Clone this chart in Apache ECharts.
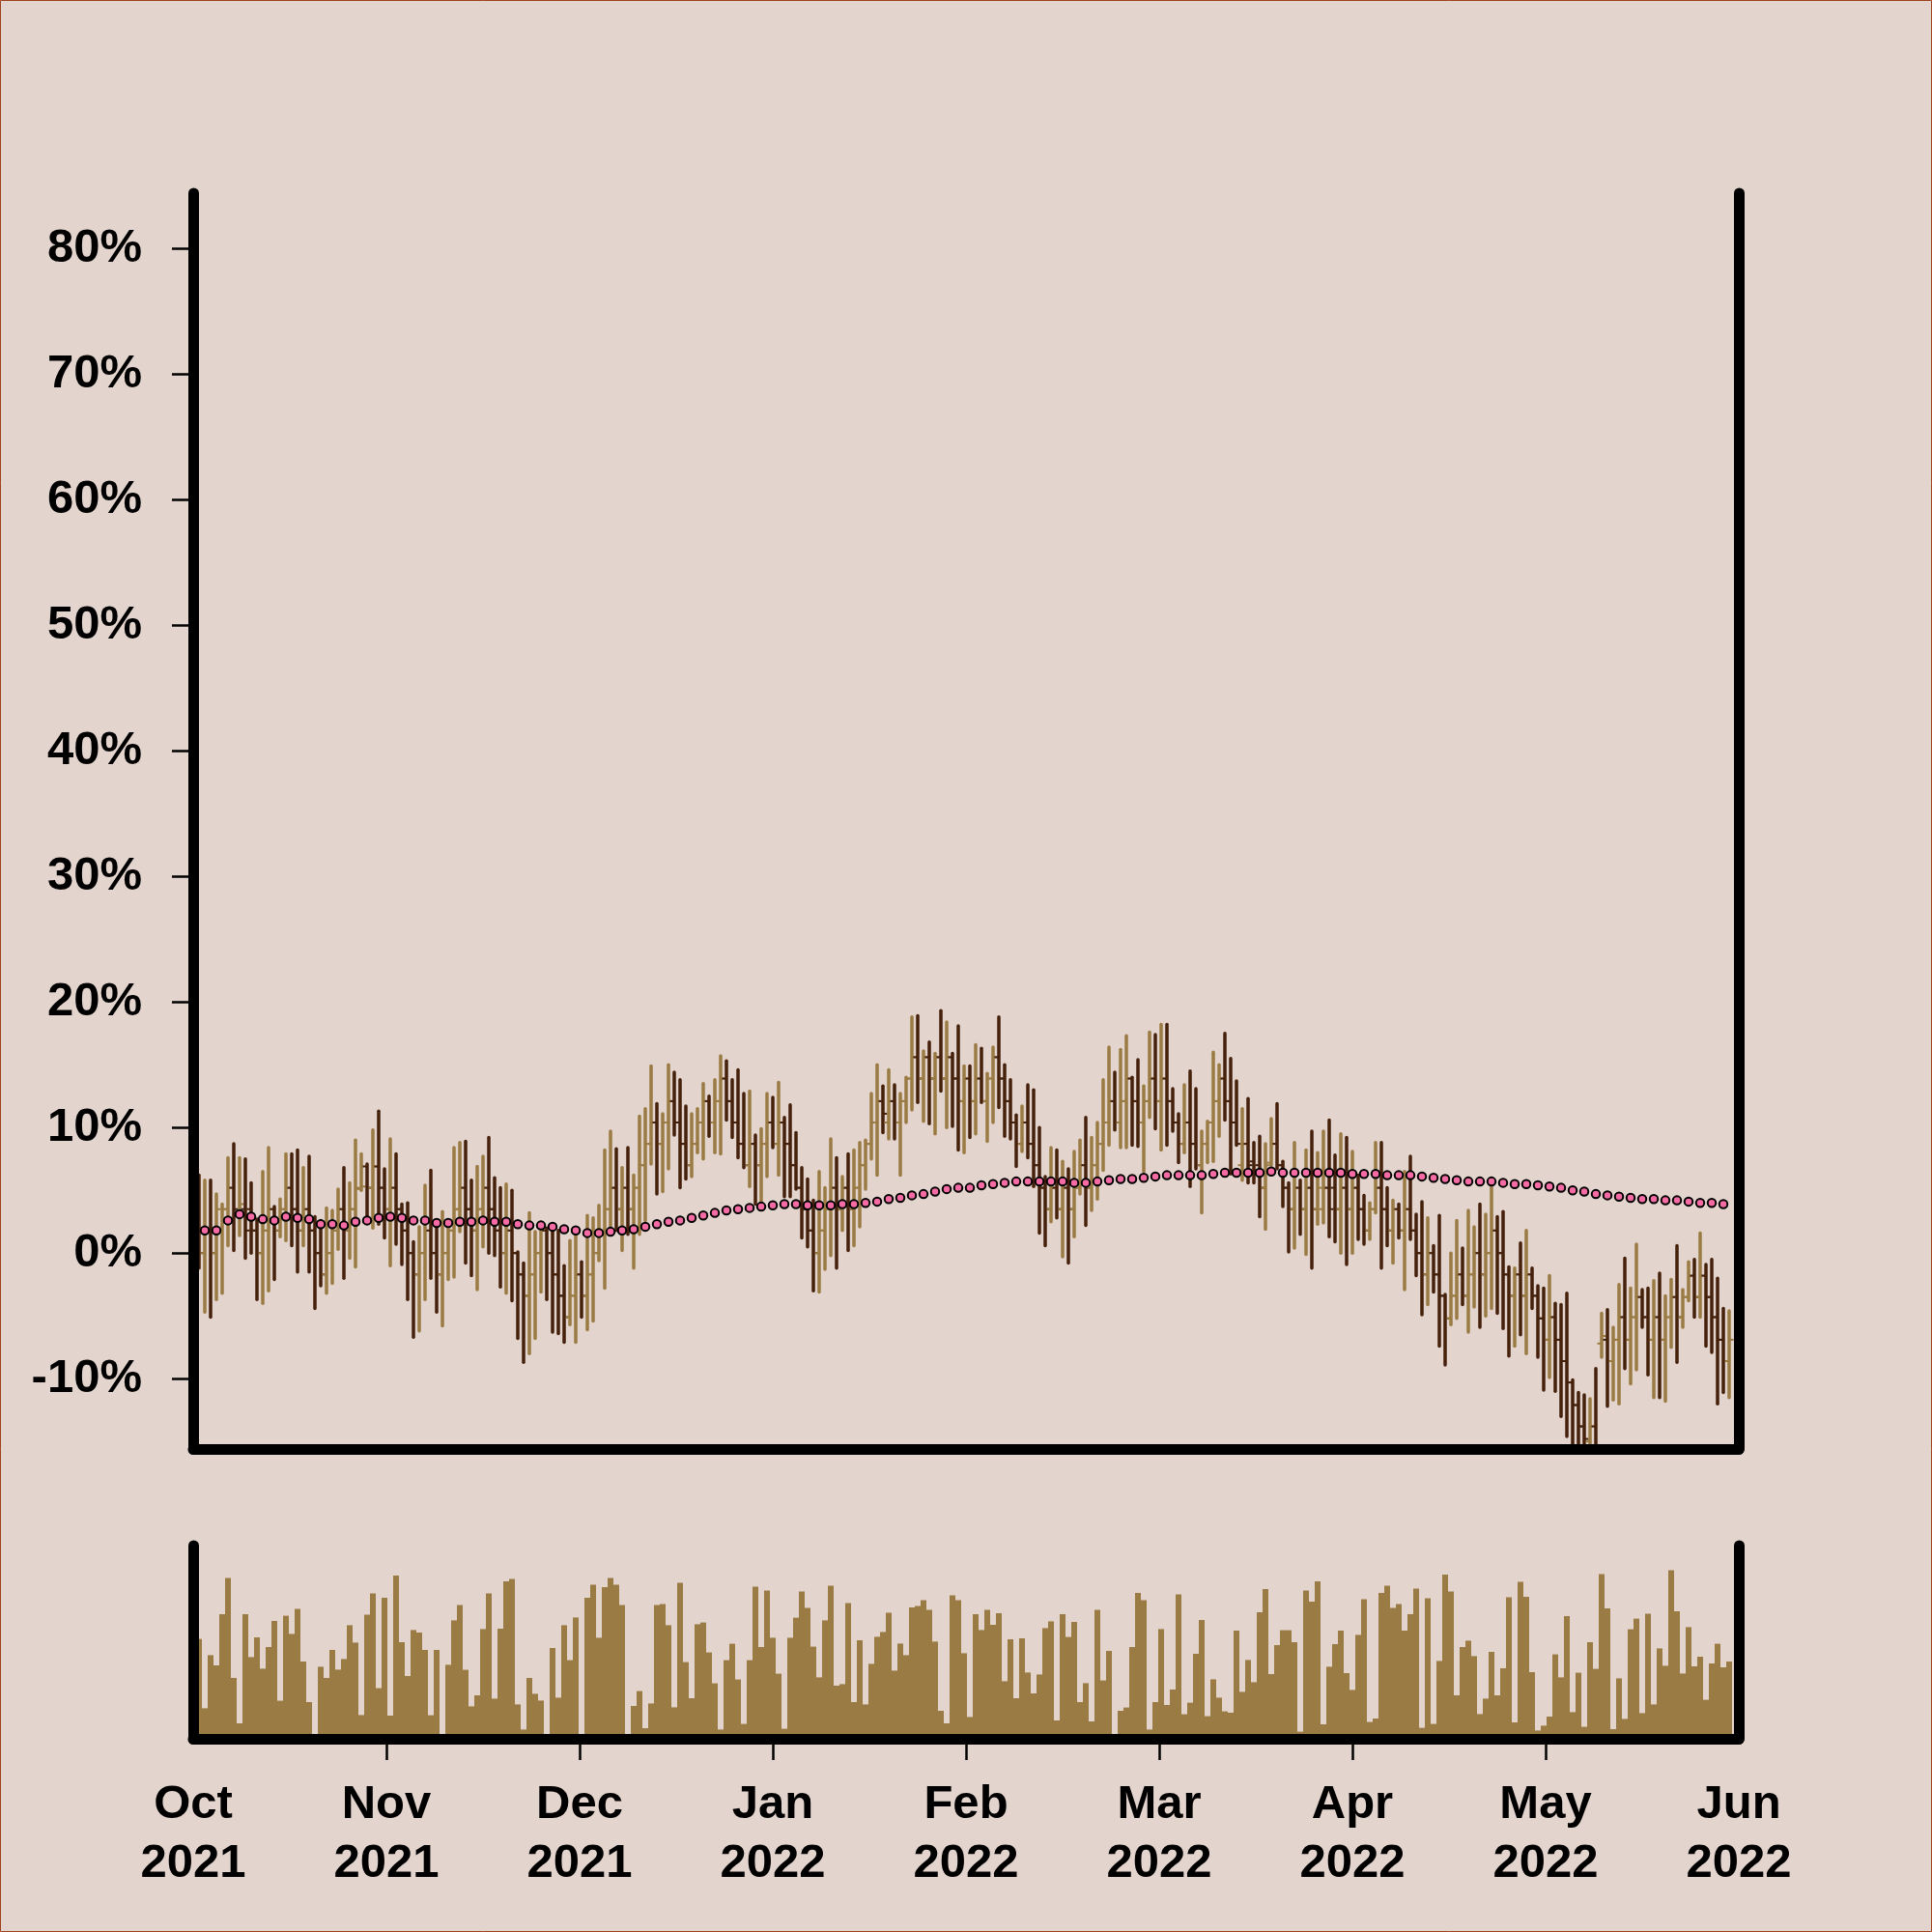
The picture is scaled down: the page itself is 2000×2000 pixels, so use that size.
<!DOCTYPE html>
<html>
<head>
<meta charset="utf-8">
<script src="https://cdn.jsdelivr.net/npm/echarts@6/dist/echarts.min.js"></script>
<style>
html,body{margin:0;padding:0;background:#e4d4ce;}
#chart{width:2000px;height:2000px;}
</style>
</head>
<body>
<div id="chart"></div>
<script>
// ---- data ----
const monthLabels = ['Oct\n2021','Nov\n2021','Dec\n2021','Jan\n2022','Feb\n2022','Mar\n2022','Apr\n2022','May\n2022','Jun\n2022'];
const yTickValues = [-10,0,10,20,30,40,50,60,70,80];

const openV = [
3.6,0.0,1.8,0.0,1.8,3.5,5.2,3.1,3.5,3.5,
1.8,0.0,1.8,3.5,1.8,3.5,5.2,3.5,1.8,3.5,
1.8,0.0,-1.7,0.0,1.8,3.5,1.8,3.5,5.1,6.9,
5.2,6.9,5.2,3.5,5.2,3.5,1.8,0.0,-1.7,0.0,
1.8,0.0,-1.7,0.0,1.8,3.5,5.2,3.5,1.8,3.5,
5.2,3.5,1.8,0.0,1.8,0.0,-1.7,-3.4,-1.7,0.0,
1.8,0.0,-1.7,-3.4,-5.1,-3.4,-1.7,-3.4,-1.7,0.0,
1.8,3.5,5.2,3.5,5.2,3.5,5.2,7.0,8.7,10.4,
8.7,10.4,12.1,10.4,8.7,7.0,8.7,10.4,12.1,10.4,
12.1,13.9,12.1,10.4,8.7,7.0,8.7,7.0,8.7,10.4,
8.7,10.4,8.7,7.0,5.2,3.5,1.8,0.0,1.8,3.5,
5.2,3.5,5.2,3.5,5.2,7.0,8.7,10.4,12.1,10.4,
12.1,10.4,12.1,13.9,15.6,13.9,15.6,13.9,15.6,13.9,
15.6,13.9,12.1,13.9,12.1,13.9,12.1,13.9,15.6,13.9,
12.1,10.4,8.7,10.4,8.7,7.0,5.2,3.5,5.2,3.5,
5.2,3.5,5.2,7.0,5.2,7.0,8.7,10.4,12.1,10.4,
12.1,13.9,12.1,10.4,12.1,13.9,12.1,13.9,12.1,10.4,
8.7,10.4,8.7,7.0,8.7,10.4,12.1,13.9,12.1,10.4,
7.0,8.7,7.3,7.0,5.2,7.2,8.7,7.0,5.2,3.5,
5.2,3.5,5.2,3.5,3.5,5.2,5.2,3.5,5.2,3.5,
5.2,3.5,1.8,3.5,5.2,3.5,1.8,3.5,1.8,3.5,
1.8,0.0,-1.7,0.0,-1.7,-3.4,-5.2,-3.4,-1.7,-3.4,
-1.7,0.0,-1.7,0.0,1.8,0.0,-1.7,-3.4,-1.7,-3.4,
-1.7,-3.4,-5.2,-6.9,-5.1,-6.9,-8.6,-10.3,-12.1,-13.8,
-15.0,-13.8,-7.2,-6.9,-8.6,-6.9,-5.1,-6.9,-5.1,-3.5,
-5.1,-6.9,-5.1,-6.9,-5.1,-3.5,-5.1,-3.5,-1.8,-3.5,
-1.8,-3.5,-5.1,-6.9,-8.6
];

const highV = [
6.2,5.8,5.8,4.7,3.9,7.6,8.7,7.6,7.5,5.6,
2.7,6.5,8.4,3.7,4.3,7.9,7.9,8.2,6.8,7.7,
2.9,2.6,3.6,3.4,5.1,6.8,5.6,9.0,7.9,7.1,
9.8,11.3,6.7,9.1,7.9,3.9,4.0,0.9,2.1,5.4,
6.6,2.4,3.3,2.0,8.4,8.8,8.9,5.8,6.9,7.7,
9.2,6.0,5.2,5.5,5.0,0.1,-0.8,3.2,1.7,2.3,
2.0,1.9,1.8,-1.0,1.0,1.8,-0.7,3.0,2.8,3.8,
8.2,9.7,8.3,6.8,8.4,6.2,10.9,11.5,14.9,11.9,
11.1,15.0,14.4,13.8,11.7,11.1,11.5,13.5,12.5,13.8,
15.7,15.3,13.8,14.6,12.7,12.9,9.4,9.9,12.7,12.4,
13.6,10.8,11.8,9.6,6.8,5.9,4.2,6.5,5.2,9.1,
7.6,6.1,7.9,8.2,8.8,9.0,12.7,15.0,13.3,14.6,
13.4,12.7,14.0,18.8,18.9,16.1,16.8,15.9,19.3,18.4,
15.9,18.1,14.9,14.9,16.6,16.3,14.3,16.4,18.8,15.0,
13.8,11.0,11.7,13.4,13.0,10.0,6.1,8.4,8.2,7.3,
6.7,8.1,9.0,10.8,9.2,10.4,13.8,16.4,14.4,16.2,
17.3,14.0,15.4,13.3,17.6,17.4,18.2,18.2,13.1,11.1,
13.4,14.5,13.1,9.7,10.5,16.0,15.0,17.5,15.5,13.7,
11.5,12.3,8.8,9.3,8.7,10.7,11.9,7.3,5.6,8.8,
5.8,8.2,9.7,8.0,9.7,10.6,7.8,9.5,9.2,8.1,
6.2,4.6,4.0,8.8,8.8,5.2,4.2,3.9,6.5,7.7,
3.1,4.1,2.8,0.6,3.0,-3.3,0.0,2.6,0.4,3.4,
2.1,3.9,3.1,5.5,2.9,3.3,-1.1,-1.2,0.8,1.8,
-1.2,-2.6,-2.8,-1.8,-4.0,-4.1,-3.2,-10.1,-11.1,-11.3,
-11.6,-9.2,-4.8,-4.5,-5.9,-2.5,-0.4,-2.8,0.7,-2.9,
-2.8,-2.2,-1.6,-3.4,-2.1,0.6,-2.9,-0.7,-0.5,1.6,
-0.9,-0.5,-2.0,-4.4,-4.6
];

const lowV = [
-1.2,-4.7,-5.1,-3.7,-3.2,0.6,0.2,1.4,-0.4,0.0,
-3.7,-4.0,-3.0,-2.1,1.3,1.0,0.6,-1.5,0.6,-1.5,
-4.4,-2.6,-3.2,-2.4,0.3,-2.0,-0.4,-1.1,5.0,2.5,
2.0,2.3,1.2,-1.0,0.7,-0.9,-3.7,-6.7,-6.2,-3.7,
-2.0,-4.7,-5.8,-2.1,-1.9,1.7,-0.8,-1.8,-2.9,0.5,
0.0,-0.2,-2.7,-3.2,-3.8,-6.8,-8.7,-8.0,-6.8,-3.1,
-3.7,-6.3,-6.4,-7.1,-5.7,-7.1,-5.1,-6.1,-5.4,-0.6,
-2.8,1.5,1.8,0.2,1.5,-1.2,1.5,2.6,7.1,4.7,
4.9,6.7,9.4,5.2,5.9,6.1,8.0,7.5,9.3,8.0,
7.9,10.6,9.2,7.6,6.8,5.3,3.9,4.0,6.1,8.4,
6.2,4.5,4.5,5.1,1.2,0.5,-3.0,-3.1,-1.3,-0.2,
-1.2,1.8,0.2,0.6,2.1,5.1,7.5,6.2,9.6,9.1,
9.1,6.2,10.4,11.4,12.0,10.5,10.3,9.5,12.9,10.0,
10.1,8.2,8.0,9.2,9.5,12.0,8.9,10.4,11.6,9.3,
9.1,6.9,8.1,7.6,5.3,1.6,0.6,2.5,2.8,-0.3,
-0.8,1.3,4.7,2.2,3.4,4.3,6.6,8.6,9.8,8.4,
8.4,8.6,8.5,6.5,10.8,9.9,8.2,8.6,9.7,7.2,
8.0,5.3,6.7,3.2,7.2,7.3,9.3,10.6,6.3,8.6,
5.8,5.6,5.6,2.9,1.9,7.0,6.7,3.7,0.1,0.4,
1.5,-0.1,-1.2,2.3,2.4,1.3,0.9,0.0,-0.9,0.0,
1.1,0.7,1.1,3.2,-1.2,0.6,-0.8,1.2,-2.9,1.1,
-1.8,-4.9,-4.1,-3.1,-7.4,-8.9,-5.7,-5.2,-4.1,-6.3,
-4.3,-5.9,-5.0,-4.4,-4.8,-6.0,-8.2,-7.4,-6.5,-8.0,
-4.4,-8.3,-10.9,-9.9,-11.0,-13.0,-14.6,-16.5,-17.0,-17.5,
-16.5,-18.0,-8.3,-12.2,-11.7,-12.0,-9.2,-10.4,-9.3,-5.9,
-9.7,-11.5,-11.5,-11.8,-7.5,-8.7,-5.9,-3.8,-5.1,-5.1,
-7.4,-7.9,-12.0,-11.1,-11.5
];

const closeV = [
0.0,1.8,0.0,3.5,3.5,5.2,3.5,3.9,1.8,1.8,
0.0,1.8,3.5,1.8,3.5,5.2,3.5,1.8,3.5,1.8,
0.0,-1.7,0.0,1.8,3.5,1.8,3.5,5.2,5.3,5.2,
6.9,5.2,3.5,5.2,3.5,1.8,0.0,-1.7,0.0,1.8,
0.0,-1.7,0.0,1.8,3.5,5.2,3.5,1.8,3.5,5.2,
3.5,1.8,0.0,1.8,0.0,-1.7,-3.4,-1.7,0.0,1.8,
0.0,-1.7,-3.4,-5.1,-3.4,-1.7,-3.4,-1.7,0.0,1.8,
3.5,5.2,3.5,5.2,3.5,5.2,7.0,8.7,10.4,8.7,
10.4,12.1,10.4,8.7,7.0,8.7,10.4,12.1,10.4,12.1,
13.9,12.1,10.4,8.7,7.0,8.7,7.0,8.7,10.4,8.7,
10.4,8.7,7.0,5.2,3.5,1.8,0.0,1.8,3.5,5.2,
3.5,5.2,3.5,5.2,7.0,8.7,10.4,12.1,11.1,12.1,
10.4,12.1,13.9,15.6,13.9,15.6,13.9,15.6,13.9,15.6,
13.9,12.1,13.9,12.1,13.9,12.1,13.9,15.6,13.9,12.1,
10.4,8.7,10.4,8.7,7.0,5.2,3.5,5.2,3.5,5.2,
3.5,5.2,7.0,5.2,7.0,8.7,10.4,12.1,10.4,12.1,
13.9,12.1,10.4,12.1,13.9,12.1,13.9,12.1,10.4,8.7,
10.4,8.7,7.0,8.7,10.4,12.1,13.9,12.1,10.4,8.7,
8.7,7.0,6.6,5.2,7.0,8.7,7.0,5.2,3.5,5.2,
3.5,5.2,3.5,5.2,5.2,3.5,3.5,5.2,3.5,5.2,
3.5,1.8,3.5,5.2,3.5,1.8,3.5,1.8,3.5,1.8,
0.0,-1.7,0.0,-1.7,-3.4,-5.2,-3.4,-1.7,-3.4,-1.7,
0.0,-1.7,0.0,1.8,0.0,-1.7,-3.4,-1.7,-3.4,-1.7,
-3.4,-5.2,-6.9,-5.1,-6.9,-8.6,-10.3,-12.1,-13.8,-14.8,
-13.8,-15.5,-6.6,-8.6,-6.9,-5.1,-6.9,-5.1,-3.5,-5.1,
-6.9,-5.1,-6.9,-5.1,-3.5,-5.1,-3.5,-1.8,-3.5,-1.8,
-3.5,-5.1,-6.9,-8.6,-6.9
];

const volumeV = [
51.7,15.8,43.3,38,64.5,83.3,31.5,8,64.5,42.3,
52.5,36.3,47.5,61,19.7,63.7,54.3,67.3,40,19,
0,37.3,31.5,46,35.8,41.3,58.8,49.8,12.3,64.2,
75.3,26.2,73,12,84.5,50,32.5,56.3,55,46,
12.2,46,0.7,38.3,61.3,69.3,35.7,16.8,22.5,56.8,
75.3,20.8,57,81.5,82.7,17.8,4.8,31.5,23.3,19.8,
0,47,21.3,58.8,40.7,62.8,0,73,79.8,52.3,
78.5,83.3,79.7,69.3,0,17,24.7,5.5,18.3,69.3,
69.7,58.8,16.3,80.7,39.7,21,59.3,60.2,44.7,28.7,
4.8,40.7,49.2,30.7,7.7,40.7,78.8,47.5,76.8,52.3,
33.7,5.2,52.3,62.7,76.3,67.8,47.7,31.8,61.3,79.3,
27.5,28.3,70.3,19,51,17.8,38.8,52.8,55.3,65.3,
35.3,49.3,43.3,68,68.8,71.8,66.8,50.3,14.5,8,
74.2,71.7,44.3,11.3,64.5,56.3,66.8,59,65,29.8,
51.5,21,52,34.3,23.5,33.3,57.3,60.8,9.5,64.5,
52.7,60.5,19,28.8,9,66.8,30.2,45.5,0,14.5,
16.2,47.5,75.5,71.8,4.8,19,56.8,17.5,25.5,74.8,
12.7,18.7,44,61.5,11.7,30.8,21.3,14.2,13.5,56,
24.3,40.8,29.3,65.5,77.5,33.5,48.5,56.2,56.2,50,
3.7,76.8,71,81.5,7.5,37.3,49,56,34,25.3,
53.8,72.3,8.7,10.5,75.5,79.3,67.7,69.8,56,64.5,
77.8,5.7,72.7,7.7,40.3,85,76.3,22.5,47.5,50.8,
42.8,12.8,20.8,45,22.5,36.5,73.3,8.5,81.3,73.5,
34.5,4.3,6.8,11.5,43.7,31.8,63.5,13.8,34.2,6.2,
50,36.2,85.3,67.5,5,31.3,10.3,56.7,62.2,13.3,
64.8,17.8,46.8,37.8,87.2,66,33.8,57.8,37.5,42.5,
20.2,39,49.2,37,40
];

// moving average, one value every second session (sessions 1,3,5,...)
const maV = [
1.8,1.8,2.6,3.1,2.9,2.7,2.6,2.9,2.8,2.7,
2.3,2.3,2.2,2.5,2.6,2.8,2.9,2.8,2.6,2.6,
2.4,2.4,2.5,2.5,2.6,2.5,2.5,2.3,2.2,2.2,
2.1,1.9,1.8,1.6,1.6,1.7,1.8,1.9,2.1,2.3,
2.5,2.6,2.8,3.0,3.2,3.4,3.5,3.6,3.7,3.8,
3.9,3.9,3.8,3.8,3.8,3.9,3.9,4.0,4.1,4.3,
4.4,4.6,4.7,4.9,5.1,5.2,5.2,5.4,5.5,5.6,
5.7,5.7,5.7,5.7,5.7,5.6,5.6,5.7,5.8,5.9,
5.9,6.0,6.1,6.2,6.2,6.2,6.2,6.3,6.4,6.4,
6.4,6.4,6.5,6.4,6.4,6.4,6.4,6.4,6.4,6.3,
6.3,6.3,6.2,6.2,6.2,6.1,6.0,5.9,5.8,5.7,
5.7,5.7,5.6,5.5,5.5,5.4,5.3,5.2,5.0,4.9,
4.7,4.6,4.5,4.4,4.3,4.3,4.2,4.2,4.1,4.0,
4.0,3.9
];

// ---- build ----
const UP = '#9a7b44', DOWN = '#45200b';
const slot = i => 3 * (i + 1);   // session position on month scale (100 per month)
const ohlcData = openV.map((o, i) => [slot(i), o, highV[i], lowV[i], closeV[i]]);
const volData = volumeV.map((v, i) => [slot(i), v]);
const maData = maV.map((v, k) => [slot(2 * k + 1), v]);

const axisLineStyle = { color: '#000', width: 11, cap: 'round' };
const labelFont = { fontFamily: 'Liberation Sans', fontWeight: 'bold', fontSize: 49, color: '#000' };

const chart = echarts.init(document.getElementById('chart'), null, { renderer: 'canvas' });
chart.setOption({
  animation: false,
  backgroundColor: '#e4d4ce',
  grid: [
    { left: 200, top: 200, width: 1600, height: 1300 },
    { left: 200, top: 1600, width: 1600, height: 200 }
  ],
  xAxis: [
    { gridIndex: 0, type: 'value', min: 0, max: 800, interval: 100, z: 10,
      axisLine: { show: true, onZero: false, lineStyle: axisLineStyle },
      axisTick: { show: false }, axisLabel: { show: false }, splitLine: { show: false } },
    { gridIndex: 1, type: 'value', min: 0, max: 800, interval: 100, z: 10,
      axisLine: { show: true, onZero: false, lineStyle: axisLineStyle },
      axisTick: { show: true, length: 22, lineStyle: { color: '#000', width: 2.5 }, customValues: [100,200,300,400,500,600,700] },
      axisLabel: Object.assign({ show: true, margin: 38, lineHeight: 61, align: 'center',
        formatter: v => monthLabels[Math.round(v / 100)] }, labelFont),
      splitLine: { show: false } }
  ],
  yAxis: [
    { gridIndex: 0, type: 'value', min: -15.6, max: 84.4, position: 'left', z: 10,
      axisLine: { show: true, onZero: false, lineStyle: axisLineStyle },
      axisTick: { show: true, length: 22, lineStyle: { color: '#000', width: 2.5 }, customValues: yTickValues },
      axisLabel: Object.assign({ show: true, margin: 53, customValues: yTickValues, formatter: v => v + '%' }, labelFont),
      splitLine: { show: false } },
    { gridIndex: 0, type: 'value', min: -15.6, max: 84.4, position: 'right', z: 10,
      axisLine: { show: true, onZero: false, lineStyle: axisLineStyle },
      axisTick: { show: false }, axisLabel: { show: false }, splitLine: { show: false } },
    { gridIndex: 1, type: 'value', min: 0, max: 100, position: 'left', z: 10,
      axisLine: { show: true, onZero: false, lineStyle: axisLineStyle },
      axisTick: { show: false }, axisLabel: { show: false }, splitLine: { show: false } },
    { gridIndex: 1, type: 'value', min: 0, max: 100, position: 'right', z: 10,
      axisLine: { show: true, onZero: false, lineStyle: axisLineStyle },
      axisTick: { show: false }, axisLabel: { show: false }, splitLine: { show: false } }
  ],
  series: [
    {
      type: 'custom', xAxisIndex: 0, yAxisIndex: 0, clip: true, z: 2,
      data: ohlcData,
      encode: { x: 0, y: [1, 2, 3, 4] },
      renderItem: function (params, api) {
        const x = api.value(0);
        const o = api.value(1), h = api.value(2), l = api.value(3), c = api.value(4);
        const pO = api.coord([x, o]), pH = api.coord([x, h]), pL = api.coord([x, l]), pC = api.coord([x, c]);
        const col = c >= o ? UP : DOWN;
        return {
          type: 'group',
          children: [
            { type: 'line', shape: { x1: pH[0], y1: pH[1], x2: pL[0], y2: pL[1] },
              style: { stroke: col, lineWidth: 3.5, lineCap: 'round' } },
            { type: 'line', shape: { x1: pO[0] - 4.5, y1: pO[1], x2: pO[0], y2: pO[1] },
              style: { stroke: col, lineWidth: 2 } },
            { type: 'line', shape: { x1: pC[0], y1: pC[1], x2: pC[0] + 4.5, y2: pC[1] },
              style: { stroke: col, lineWidth: 2 } }
          ]
        };
      }
    },
    {
      type: 'scatter', xAxisIndex: 0, yAxisIndex: 0, z: 4,
      data: maData, symbol: 'circle', symbolSize: 8.5,
      itemStyle: { color: '#f76ba5', borderColor: '#000', borderWidth: 2, opacity: 1 },
      emphasis: { disabled: true }
    },
    {
      type: 'bar', xAxisIndex: 1, yAxisIndex: 2, z: 2,
      data: volData, barWidth: 6,
      itemStyle: { color: UP }
    }
  ],
  graphic: [
    { type: 'rect', silent: true, z: 100,
      shape: { x: 0.5, y: 0.5, width: 1999, height: 1999 },
      style: { fill: null, stroke: '#a0421f', lineWidth: 1 } }
  ]
});
</script>
</body>
</html>
